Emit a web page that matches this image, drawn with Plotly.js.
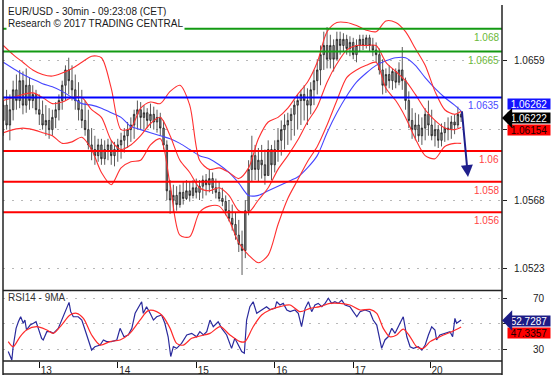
<!DOCTYPE html>
<html><head><meta charset="utf-8">
<script src="https://cdn.plot.ly/plotly-3.0.1.min.js"></script>
<style>html,body{margin:0;padding:0;background:#fff;overflow:hidden}#chart{width:557px;height:378px}</style>
</head><body><div id="chart"></div>
<script>
// ---------- DATA ----------
// hourly bars, hours since first bar (weekend removed)
const barHour = [0,1,2,3,4,5,6,7,8,9,10,11,12,13,14,15,16,17,18,19,20,21,22,23,24,25,26,27,28,29,30,31,32,33,34,35,36,37,38,39,40,41,42,43,44,45,46,47,48,49,50,51,52,53,54,55,56,57,58,59,60,61,62,63,64,65,66,67,68,69,70,71,72,73,74,75,76,77,78,79,80,81,82,83,84,85,86,87,88,89,90,91,92,93,94,95,96,97,98,99,100,101,102,103,104,105,106,107,108,109,110,111,112,113,114,115,116,117,118,119,120,121,122,123,124,125,126,127,128,129,130,131,132,133,134,135,136,137,138,139,140];
const barOpen = [1.0620,1.0630,1.0617,1.0627,1.0640,1.0633,1.0646,1.0630,1.0643,1.0633,
1.0637,1.0627,1.0624,1.0617,1.0620,1.0614,1.0622,1.0627,1.0633,1.0643,
1.0653,1.0646,1.0640,1.0633,1.0627,1.0620,1.0614,1.0604,1.0601,1.0597,
1.0604,1.0595,1.0601,1.0604,1.0597,1.0601,1.0604,1.0607,1.0610,1.0614,
1.0617,1.0624,1.0627,1.0622,1.0625,1.0620,1.0624,1.0619,1.0622,1.0615,
1.0604,1.0574,1.0568,1.0571,1.0565,1.0573,1.0569,1.0574,1.0571,1.0576,
1.0573,1.0577,1.0581,1.0578,1.0582,1.0576,1.0573,1.0569,1.0567,1.0561,
1.0556,1.0552,1.0545,1.0539,1.0535,1.0561,1.0588,1.0597,1.0588,1.0594,
1.0591,1.0584,1.0601,1.0591,1.0601,1.0607,1.0614,1.0617,1.0620,1.0624,
1.0630,1.0633,1.0637,1.0633,1.0630,1.0640,1.0646,1.0653,1.0663,1.0669,
1.0660,1.0669,1.0660,1.0673,1.0669,1.0673,1.0667,1.0671,1.0663,1.0669,
1.0673,1.0669,1.0674,1.0669,1.0666,1.0663,1.0653,1.0643,1.0650,1.0646,
1.0652,1.0645,1.0653,1.0646,1.0633,1.0620,1.0614,1.0617,1.0610,1.0615,
1.0624,1.0617,1.0610,1.0614,1.0607,1.0612,1.0615,1.0614,1.0619,1.0617,1.0624];
const barHigh = [1.0633,1.0640,1.0637,1.0646,1.0650,1.0653,1.0652,1.0654,1.0648,1.0643,
1.0640,1.0637,1.0633,1.0630,1.0628,1.0627,1.0632,1.0637,1.0646,1.0656,
1.0661,1.0656,1.0650,1.0645,1.0640,1.0633,1.0627,1.0615,1.0610,1.0608,
1.0608,1.0607,1.0608,1.0607,1.0606,1.0608,1.0612,1.0615,1.0619,1.0622,
1.0627,1.0633,1.0632,1.0630,1.0628,1.0631,1.0629,1.0627,1.0625,1.0620,
1.0607,1.0581,1.0578,1.0577,1.0578,1.0580,1.0581,1.0580,1.0581,1.0582,
1.0581,1.0584,1.0585,1.0588,1.0586,1.0582,1.0580,1.0576,1.0571,1.0568,
1.0565,1.0560,1.0555,1.0548,1.0568,1.0594,1.0610,1.0604,1.0602,1.0604,
1.0601,1.0607,1.0604,1.0607,1.0615,1.0620,1.0624,1.0625,1.0628,1.0633,
1.0637,1.0640,1.0643,1.0641,1.0645,1.0653,1.0660,1.0669,1.0678,1.0681,
1.0676,1.0673,1.0678,1.0678,1.0677,1.0676,1.0675,1.0674,1.0673,1.0676,
1.0676,1.0676,1.0676,1.0674,1.0671,1.0667,1.0660,1.0654,1.0656,1.0654,
1.0654,1.0658,1.0668,1.0648,1.0639,1.0628,1.0625,1.0624,1.0622,1.0628,
1.0633,1.0627,1.0620,1.0617,1.0618,1.0619,1.0622,1.0623,1.0624,1.0629,1.0625];
const barLow = [1.0610,1.0614,1.0607,1.0620,1.0627,1.0628,1.0624,1.0625,1.0627,1.0628,
1.0624,1.0617,1.0614,1.0610,1.0608,1.0610,1.0615,1.0620,1.0627,1.0633,
1.0637,1.0633,1.0627,1.0620,1.0615,1.0610,1.0601,1.0594,1.0591,1.0593,
1.0591,1.0591,1.0594,1.0591,1.0590,1.0593,1.0595,1.0599,1.0602,1.0606,
1.0608,1.0614,1.0614,1.0614,1.0615,1.0615,1.0614,1.0612,1.0610,1.0601,
1.0568,1.0559,1.0560,1.0561,1.0563,1.0565,1.0568,1.0567,1.0569,1.0569,
1.0568,1.0569,1.0571,1.0573,1.0572,1.0569,1.0567,1.0564,1.0558,1.0554,
1.0548,1.0542,1.0534,1.0519,1.0530,1.0558,1.0580,1.0581,1.0580,1.0582,
1.0578,1.0584,1.0581,1.0586,1.0593,1.0597,1.0601,1.0604,1.0607,1.0610,
1.0614,1.0617,1.0620,1.0617,1.0624,1.0630,1.0637,1.0643,1.0653,1.0654,
1.0654,1.0652,1.0660,1.0663,1.0665,1.0663,1.0662,1.0660,1.0658,1.0665,
1.0666,1.0667,1.0665,1.0662,1.0658,1.0650,1.0637,1.0638,1.0641,1.0640,
1.0641,1.0643,1.0640,1.0627,1.0615,1.0608,1.0607,1.0606,1.0604,1.0607,
1.0610,1.0607,1.0603,1.0602,1.0603,1.0606,1.0607,1.0608,1.0611,1.0615,1.0619];
const barClose = [1.0630,1.0617,1.0627,1.0640,1.0633,1.0646,1.0630,1.0643,1.0633,1.0637,
1.0627,1.0624,1.0617,1.0620,1.0614,1.0622,1.0627,1.0633,1.0643,1.0653,
1.0646,1.0640,1.0633,1.0627,1.0620,1.0614,1.0604,1.0601,1.0597,1.0604,
1.0595,1.0601,1.0604,1.0597,1.0601,1.0604,1.0607,1.0610,1.0614,1.0617,
1.0624,1.0627,1.0622,1.0625,1.0620,1.0624,1.0619,1.0622,1.0615,1.0604,
1.0574,1.0568,1.0571,1.0565,1.0573,1.0569,1.0574,1.0571,1.0576,1.0573,
1.0577,1.0581,1.0578,1.0582,1.0576,1.0573,1.0569,1.0567,1.0561,1.0556,
1.0552,1.0545,1.0539,1.0535,1.0561,1.0588,1.0597,1.0588,1.0594,1.0591,
1.0584,1.0601,1.0591,1.0601,1.0607,1.0614,1.0617,1.0620,1.0624,1.0630,
1.0633,1.0637,1.0633,1.0630,1.0640,1.0646,1.0653,1.0663,1.0669,1.0660,
1.0669,1.0660,1.0673,1.0669,1.0673,1.0667,1.0671,1.0663,1.0669,1.0673,
1.0669,1.0674,1.0669,1.0666,1.0663,1.0653,1.0643,1.0650,1.0646,1.0652,
1.0645,1.0653,1.0646,1.0633,1.0620,1.0614,1.0617,1.0610,1.0615,1.0624,
1.0617,1.0610,1.0614,1.0607,1.0612,1.0615,1.0614,1.0619,1.0617,1.0624,1.06222];

// indicator readings (every 3 hours)
const bandHour = [0,3,6,9,12,15,18,21,24,27,30,33,36,39,42,45,48,51,54,57,60,63,66,69,72,75,78,81,84,87,90,93,96,99,102,105,108,111,114,117,120,123,126,129,132,135,138,140];
const bbUpper = [1.0669,1.0663,1.0658,1.0653,1.0650,1.0649,1.0651,1.0654,1.0658,1.0662,
1.0661,1.0641,1.0614,1.0615,1.0628,1.0632,1.0631,1.0639,1.0643,1.0630,
1.0594,1.0588,1.0589,1.0586,1.0582,1.0589,1.0608,1.0619,1.0622,1.0628,
1.0637,1.0645,1.0658,1.0678,1.0684,1.0684,1.0682,1.0679,1.0678,1.0685,
1.0684,1.0678,1.0667,1.0656,1.0639,1.0627,1.0624,1.0626];
const bbMiddle = [1.0633,1.0635,1.0637,1.0638,1.0635,1.0631,1.0632,1.0635,1.0635,1.0627,
1.0622,1.0607,1.0601,1.0604,1.0610,1.0618,1.0622,1.0610,1.0594,1.0586,
1.0576,1.0574,1.0576,1.0571,1.0561,1.0560,1.0568,1.0576,1.0588,1.0597,
1.0607,1.0619,1.0629,1.0645,1.0657,1.0666,1.0669,1.0669,1.0669,1.0658,
1.0652,1.0646,1.0637,1.0627,1.0620,1.0615,1.0614,1.06154];
const bbLower = [1.0612,1.0614,1.0615,1.0614,1.0612,1.0610,1.0605,1.0606,1.0609,1.0601,
1.0586,1.0578,1.0589,1.0593,1.0594,1.0604,1.0608,1.0578,1.0545,1.0544,
1.0560,1.0564,1.0564,1.0555,1.0540,1.0532,1.0527,1.0532,1.0552,1.0569,
1.0581,1.0593,1.0603,1.0617,1.0633,1.0648,1.0653,1.0656,1.0658,1.0641,
1.0633,1.0622,1.0608,1.0597,1.0595,1.0603,1.0605,1.0605];
const maBlue = [1.0658,1.0654,1.0650,1.0647,1.0644,1.0642,1.0639,1.0635,1.0631,1.0630,
1.0628,1.0625,1.0622,1.0616,1.0614,1.0612,1.0610,1.0608,1.0605,1.0601,
1.0597,1.0595,1.0591,1.0586,1.0579,1.0571,1.0571,1.0574,1.0577,1.0580,
1.0583,1.0589,1.0597,1.0612,1.0625,1.0636,1.0645,1.0651,1.0656,1.0659,
1.0661,1.0661,1.0656,1.0648,1.0641,1.0635,1.0630,1.06262];

const rsiHour = [1.5,2.6,3.0,3.9,4.6,5.3,6.1,6.6,7.1,8.2,9.2,10.0,10.7,11.7,12.2,13.3,14.3,15.3,16.8,18.3,19.4,20.1,20.6,21.4,22.9,24.0,25.0,26.0,27.0,28.0,29.6,30.6,31.6,33.1,34.7,35.7,36.9,38.2,39.3,40.3,41.3,42.3,42.8,43.8,44.9,45.9,46.9,48.4,49.4,50.4,51.2,52.0,53.0,54.5,56.1,57.6,59.1,60.1,61.2,62.2,63.2,64.2,65.7,66.8,68.3,69.8,70.8,71.9,72.9,73.7,74.4,75.4,76.4,77.5,79.0,80.5,81.5,83.1,83.6,84.6,85.6,86.7,87.7,89.2,90.2,91.2,92.3,93.3,94.3,95.3,96.3,97.4,98.4,99.4,100.4,101.4,102.4,103.5,104.5,106.0,107.0,108.1,109.1,110.6,112.1,113.1,114.2,115.2,115.7,116.7,117.7,118.8,119.8,121.3,122.3,123.4,124.4,125.4,126.9,128.0,129.0,130.0,131.0,132.0,132.5,133.5,135.1,136.6,137.4,138.1,138.6,140];
const rsiValue = [28,21.4,31.8,46.2,51.4,55.3,50.2,52.7,44.9,48.8,50.2,51.4,46.2,38.4,37.1,43.6,43.6,42.3,46.2,55.3,61.9,66.6,59.3,55.3,55.3,52.7,44.9,37.1,29.2,31.8,33.1,37.1,35.8,35.8,37.1,46.2,39.6,41,46.2,58,63.2,67.1,58,63.2,58,52.7,55.3,56.7,50.2,39.6,24.1,31.8,30.5,34.4,41,42.3,39.6,43.6,41,43.6,52.7,47.5,51.4,46.2,41,30.5,38.4,33.1,28,26.7,52.7,63.2,67.1,58,60.6,63.2,61,61.9,67.1,64.5,65.8,60.6,59.3,60.6,58,47.5,61.9,67.1,59.3,64.5,65.8,63.2,65.8,69.8,65.8,67.1,65.8,68.4,64.5,63.2,59.3,55.3,59.3,60.6,59.3,52.7,48.8,37.1,30.5,37.1,39.6,46.2,42.3,50.2,55.3,39.6,31.8,30.5,31.8,29.2,33.1,41,47.5,44.9,37.1,41,42.3,43.6,39.6,54,50.2,52.7287];
const rsiMaHour = [1.5,3.0,5.1,7.1,10.2,13.3,15.3,17.8,20.4,22.4,24.5,27.0,29.6,32.6,35.7,38.7,41.8,44.3,46.9,48.9,51.0,53.0,55.0,57.6,60.1,63.2,66.3,69.3,72.4,73.9,76.4,79.0,81.5,84.6,87.7,90.7,93.8,96.8,99.9,103.0,106.0,109.1,112.1,114.2,116.2,118.2,120.3,122.3,124.4,126.4,128.4,130.5,132.5,134.6,137.1,140];
const rsiMaValue = [35.8,31.8,39.6,44.9,47.5,44.9,42.3,48.8,56.7,58,54,41,33.1,35.8,37.1,42.3,52.7,60.1,59.3,55.3,46.2,34.4,33.1,38.4,40.2,42.3,47.5,41,35.8,35.8,47.5,56.7,60.6,63.2,64.5,59.3,61.9,63.2,65.8,65.8,64.5,60.6,61.1,58,46.2,39.6,41,45.6,39.6,31.8,30.5,35.8,38.4,41,43.6,47.3357];

const dayTickHour = [11,35,59,83,107,130.5];
const dayTickLabel = ['13','14','15','16','17','20'];
// gridline values; the 1.0614 and 50 labels sit behind value boxes, so they are not printed
const priceTicks = [1.0523,1.0568,1.0614,1.0659];
const priceTickLabels = ['1.0523','1.0568','','1.0659'];
const rsiTicks = [30,50,70];
const rsiTickLabels = ['30','','70'];

const levels = [1.068,1.0665,1.0635,1.06,1.058,1.056];
const levelLabels = ['1.068','1.0665','1.0635','1.06','1.058','1.056'];
const levelKind = ['res','res','pivot','sup','sup','sup'];

const lastMA = 1.06262, lastClose = 1.06222, lastMid = 1.06154;
const lastRsi = 52.7287, lastRsiMa = 47.3357;
const arrowFrom = {h:140.2, p:1.0627}, arrowTo = {h:142.1, p:1.0583};

// ---------- STYLE / LAYOUT ----------
const FONT = 'Liberation Sans, Arial, Helvetica, sans-serif';
const ML = 3, MR = 55, MT = 0, MB = 17, W = 557, H = 378;
const PW = W - ML - MR, PH = H - MT - MB;
const px = v => (v - ML) / PW;          // pixel x -> paper
const py = v => (PH - (v - MT)) / PH;   // pixel y -> paper
const split = py(290.5);

const lineColor = {res:'#139a13', pivot:'#0000ff', sup:'#ff0000'};
const textColor = {res:'#6bb83a', pivot:'#4a4aff', sup:'#ff4545'};

const traces = [
  {type:'candlestick', x:barHour, open:barOpen, high:barHigh, low:barLow, close:barClose,
   xaxis:'x', yaxis:'y', whiskerwidth:0, hoverinfo:'skip', showlegend:false,
   increasing:{line:{color:'#111', width:0.7}, fillcolor:'#8c8c8c'},
   decreasing:{line:{color:'#111', width:0.7}, fillcolor:'#8c8c8c'}},
  {type:'scatter', mode:'lines', x:bandHour, y:maBlue, xaxis:'x', yaxis:'y',
   line:{color:'#4646ff', width:1.1, shape:'spline', smoothing:0.8}, hoverinfo:'skip'},
  {type:'scatter', mode:'lines', x:bandHour, y:bbUpper, xaxis:'x', yaxis:'y',
   line:{color:'#ff3030', width:1.1, shape:'spline', smoothing:0.8}, hoverinfo:'skip'},
  {type:'scatter', mode:'lines', x:bandHour, y:bbMiddle, xaxis:'x', yaxis:'y',
   line:{color:'#ff3030', width:1.1, shape:'spline', smoothing:0.8}, hoverinfo:'skip'},
  {type:'scatter', mode:'lines', x:bandHour, y:bbLower, xaxis:'x', yaxis:'y',
   line:{color:'#ff3030', width:1.1, shape:'spline', smoothing:0.8}, hoverinfo:'skip'},
  {type:'scatter', mode:'lines', x:rsiHour, y:rsiValue, xaxis:'x', yaxis:'y2',
   line:{color:'#2a2a9c', width:1.2}, hoverinfo:'skip'},
  {type:'scatter', mode:'lines', x:rsiMaHour, y:rsiMaValue, xaxis:'x', yaxis:'y2',
   line:{color:'#ff2a2a', width:1.2, shape:'spline', smoothing:0.8}, hoverinfo:'skip'}
];

const shapes = [];
levels.forEach((v,i) => shapes.push({type:'line', xref:'paper', x0:0, x1:1, yref:'y', y0:v, y1:v,
  line:{color:lineColor[levelKind[i]], width:2}, layer:'above'}));
const frame = {color:'#222', width:1.5};
shapes.push({type:'line', xref:'paper', yref:'paper', x0:0, x1:0, y0:py(375), y1:1, line:frame});
shapes.push({type:'line', xref:'paper', yref:'paper', x0:1, x1:1, y0:py(375), y1:py(5), line:frame});
shapes.push({type:'line', xref:'paper', yref:'paper', x0:0, x1:1, y0:py(374), y1:py(374), line:frame});
shapes.push({type:'line', xref:'paper', yref:'paper', x0:0, x1:1, y0:split, y1:split, line:frame});
shapes.push({type:'line', xref:'paper', yref:'paper', x0:0, x1:1, y0:0, y1:0, line:frame});

const ann = [];
// titles
ann.push({xref:'paper', yref:'paper', x:px(6), y:py(11), xanchor:'left', yanchor:'middle', showarrow:false,
  text:'EUR/USD - 30min - 09:23:08 (CET)', font:{family:FONT, size:10, color:'#1a1a1a'}});
ann.push({xref:'paper', yref:'paper', x:px(6), y:py(23.5), xanchor:'left', yanchor:'middle', showarrow:false,
  text:'Research © 2017 TRADING CENTRAL', bgcolor:'#ffffff', borderpad:1,
  font:{family:FONT, size:10, color:'#1a1a1a'}});
ann.push({xref:'paper', yref:'paper', x:px(6), y:py(297.5), xanchor:'left', yanchor:'middle', showarrow:false,
  text:'RSI14 - 9MA', font:{family:FONT, size:10, color:'#333'}});
// level labels
levels.forEach((v,i) => ann.push({xref:'paper', yref:'y', x:px(501), y:v, xanchor:'right', yanchor:'top',
  yshift:-1, showarrow:false, text:levelLabels[i], font:{family:FONT, size:10, color:textColor[levelKind[i]]}}));
// axis tick labels (right aligned)
priceTicks.forEach((v,i) => { if (priceTickLabels[i]) ann.push({xref:'paper', yref:'y', x:px(547), y:v,
  xanchor:'right', yanchor:'middle', showarrow:false, text:priceTickLabels[i],
  font:{family:FONT, size:10, color:'#222'}}); });
rsiTicks.forEach((v,i) => { if (rsiTickLabels[i]) ann.push({xref:'paper', yref:'y2', x:px(547), y:v,
  xanchor:'right', yanchor:'middle', showarrow:false, text:rsiTickLabels[i],
  font:{family:FONT, size:10, color:'#222'}}); });
// value boxes
const boxX = px(529);
ann.push({xref:'paper', yref:'y', x:boxX, y:lastMA, xanchor:'center', yanchor:'middle', yshift:7, showarrow:false,
  text:lastMA.toFixed(5), bgcolor:'#1414ff', width:42, height:10, borderpad:0,
  font:{family:FONT, size:10, color:'#fff'}});
ann.push({xref:'paper', yref:'y', x:boxX, y:lastMid, xanchor:'center', yanchor:'middle', yshift:-2.5, showarrow:false,
  text:lastMid.toFixed(5), bgcolor:'#ff0000', width:42, height:10, borderpad:0,
  font:{family:FONT, size:10, color:'#200000'}});
ann.push({xref:'paper', yref:'y', x:px(502), y:lastClose, yshift:-1, ax:27, ay:0, showarrow:true,
  arrowhead:1, arrowsize:3.4, arrowwidth:1, arrowcolor:'#000', standoff:0, text:lastClose.toFixed(5),
  bgcolor:'#000', width:42, height:10, borderpad:0, font:{family:FONT, size:10, color:'#fff'}});
ann.push({xref:'paper', yref:'y2', x:boxX, y:lastRsiMa, xanchor:'center', yanchor:'middle', yshift:-6, showarrow:false,
  text:lastRsiMa.toFixed(4), bgcolor:'#ff0000', width:42, height:10, borderpad:0,
  font:{family:FONT, size:10, color:'#200000'}});
ann.push({xref:'paper', yref:'y2', x:px(502), y:lastRsi, yshift:-0.5, ax:27, ay:0, showarrow:true,
  arrowhead:1, arrowsize:3.4, arrowwidth:1, arrowcolor:'#1c1c86', standoff:0, text:lastRsi.toFixed(4),
  bgcolor:'#1c1c86', width:42, height:10, borderpad:0, font:{family:FONT, size:10, color:'#fff'}});
// forecast arrow
ann.push({xref:'x', yref:'y', x:arrowTo.h, y:arrowTo.p, axref:'x', ayref:'y', ax:arrowFrom.h, ay:arrowFrom.p,
  showarrow:true, text:'', arrowhead:2, arrowsize:1.2, arrowwidth:2, arrowcolor:'#1f1f8c', standoff:0});

const gridStyle = {showgrid:true, gridcolor:'#b8b8b8', griddash:'2px,7px', gridwidth:1, zeroline:false, showline:false,
  ticks:'outside', ticklen:4, tickwidth:1, tickcolor:'#222', showticklabels:false, fixedrange:true};

const layout = {
  width:W, height:H, margin:{l:ML, r:MR, t:MT, b:MB, pad:0},
  paper_bgcolor:'#fff', plot_bgcolor:'#fff', showlegend:false, boxgap:0.35,
  font:{family:FONT, size:10, color:'#222'},
  xaxis:{range:[-0.1,152.5], anchor:'y2', rangeslider:{visible:false}, showgrid:false,
    zeroline:false, showline:false, ticks:'outside', ticklen:6, tickwidth:1, tickcolor:'#111',
    tickvals:dayTickHour, ticktext:dayTickLabel, ticklabelshift:7, ticklabelstandoff:-6,
    tickfont:{family:FONT, size:10, color:'#222'}, fixedrange:true},
  yaxis:Object.assign({}, gridStyle, {domain:[split,1], range:[1.050885,1.069872], side:'right', anchor:'x',
    tickvals:priceTicks}),
  yaxis2:Object.assign({}, gridStyle, {domain:[0,split], range:[20.6,75.9], side:'right', anchor:'x',
    tickvals:rsiTicks}),
  shapes:shapes, annotations:ann
};

Plotly.newPlot('chart', traces, layout, {staticPlot:true, displayModeBar:false});
</script>
</body></html>
